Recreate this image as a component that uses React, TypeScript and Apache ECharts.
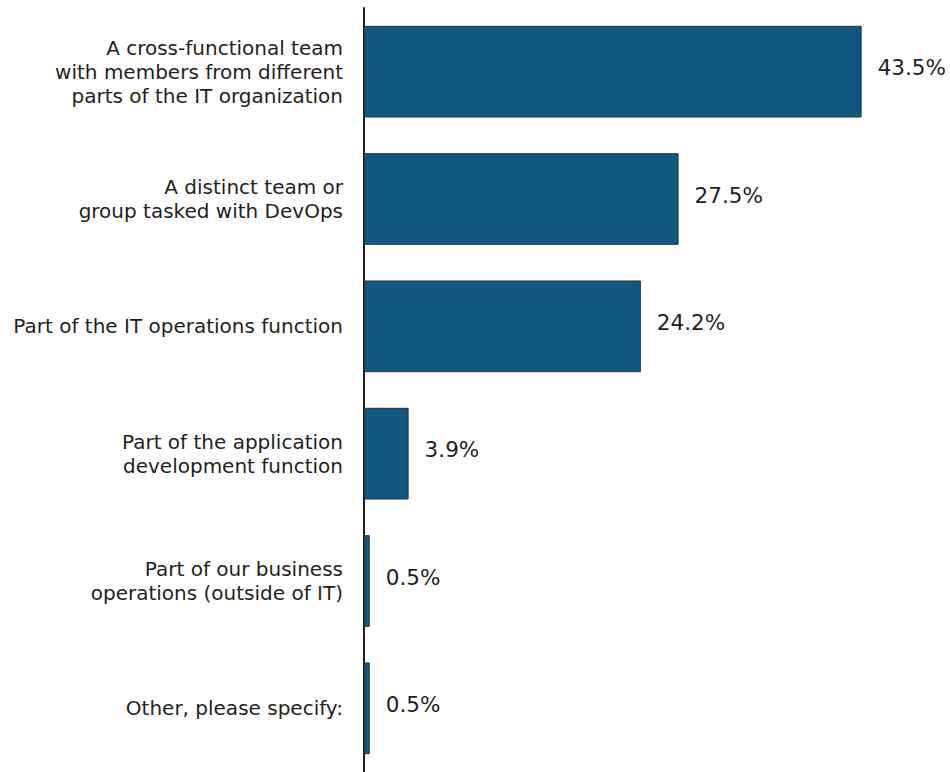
import React, { useEffect, useRef } from "react";
import * as echarts from "echarts";

const categories = [
  "A cross-functional team\nwith members from different\nparts of the IT organization",
  "A distinct team or\ngroup tasked with DevOps",
  "Part of the IT operations function",
  "Part of the application\ndevelopment function",
  "Part of our business\noperations (outside of IT)",
  "Other, please specify:",
];
const values = [43.5, 27.5, 24.2, 3.9, 0.5, 0.5];

export default function App() {
  const ref = useRef<HTMLDivElement>(null);
  useEffect(() => {
    const chart = echarts.init(ref.current!, null, { renderer: "svg" });
    chart.setOption({
      animation: false,
      grid: { left: 364, right: 14, top: 8, bottom: 0, containLabel: false },
      xAxis: {
        type: "value",
        min: 0,
        max: 50,
        show: false,
      },
      yAxis: {
        type: "category",
        data: categories,
        inverse: true,
        axisLine: { show: true, lineStyle: { color: "#231f20", width: 2 } },
        axisTick: { show: false },
        axisLabel: {
          margin: 21,
          color: "#231f20",
          fontFamily: "DejaVu Sans",
          fontSize: 20,
          lineHeight: 24,
          align: "right",
          padding: [0, 0, 7, 0],
        },
      },
      series: [
        {
          type: "bar",
          data: values,
          barWidth: "72%",
          itemStyle: { color: "#11587f", borderColor: "#233540", borderWidth: 1 },
          label: {
            show: true,
            position: "right",
            distance: 16,
            offset: [0, -4],
            formatter: (p: any) => p.value.toFixed(1) + "%",
            color: "#231f20",
            fontFamily: "DejaVu Sans",
            fontSize: 21.5,
          },
        },
      ],
    });
    return () => chart.dispose();
  }, []);
  return <div ref={ref} style={{ width: 950, height: 772, position: "absolute", left: 0, top: 0 }} />;
}
